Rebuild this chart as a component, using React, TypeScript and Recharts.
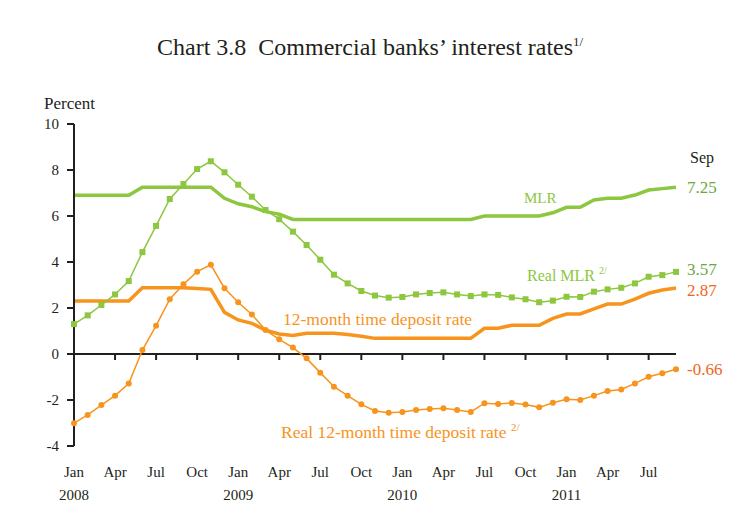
import React from "react";
import { LineChart, Line, XAxis, YAxis, ReferenceLine, ReferenceDot, LabelList } from "recharts";

const months = ["Jan", "Feb", "Mar", "Apr", "May", "Jun", "Jul", "Aug", "Sep", "Oct", "Nov", "Dec"];
const years = [2008, 2009, 2010, 2011];

const mlr = [
  6.9, 6.9, 6.9, 6.9, 6.9, 7.25, 7.25, 7.25, 7.25, 7.25, 7.25, 6.77,
  6.53, 6.4, 6.19, 6.08, 5.85, 5.85, 5.85, 5.85, 5.85, 5.85, 5.85, 5.85,
  5.85, 5.85, 5.85, 5.85, 5.85, 5.85, 6.0, 6.0, 6.0, 6.0, 6.0, 6.14,
  6.38, 6.38, 6.7, 6.77, 6.77, 6.91, 7.13, 7.19, 7.25,
];
const realMlr = [
  1.3, 1.68, 2.13, 2.59, 3.17, 4.43, 5.57, 6.74, 7.39, 8.04, 8.38, 7.9,
  7.36, 6.84, 6.26, 5.86, 5.32, 4.74, 4.1, 3.45, 3.07, 2.74, 2.54, 2.45,
  2.48, 2.59, 2.65, 2.68, 2.59, 2.52, 2.59, 2.57, 2.46, 2.38, 2.25, 2.32,
  2.49, 2.48, 2.71, 2.81, 2.88, 3.07, 3.36, 3.43, 3.57,
];
const deposit = [
  2.3, 2.3, 2.3, 2.3, 2.3, 2.88, 2.88, 2.88, 2.88, 2.85, 2.81, 1.81,
  1.48, 1.33, 1.04, 0.87, 0.8, 0.9, 0.9, 0.9, 0.85, 0.77, 0.68, 0.68,
  0.68, 0.68, 0.68, 0.68, 0.68, 0.68, 1.12, 1.12, 1.25, 1.25, 1.25, 1.55,
  1.74, 1.74, 1.96, 2.17, 2.17, 2.39, 2.64, 2.78, 2.87,
];
const realDeposit = [
  -3.01, -2.65, -2.22, -1.81, -1.28, 0.17, 1.23, 2.38, 3.03, 3.58, 3.88, 2.86,
  2.25, 1.72, 1.04, 0.64, 0.28, -0.19, -0.81, -1.42, -1.81, -2.19, -2.48, -2.55,
  -2.52, -2.43, -2.39, -2.36, -2.43, -2.52, -2.14, -2.17, -2.13, -2.2, -2.32, -2.12,
  -1.97, -2.0, -1.81, -1.61, -1.54, -1.28, -0.99, -0.84, -0.66,
];
const yTicks = [-4, -2, 0, 2, 4, 6, 8, 10];

const data = mlr.map((v, i) => ({
  date: `${years[Math.floor(i / 12)]}-${months[i % 12]}`,
  mlr: v,
  realMlr: realMlr[i],
  deposit: deposit[i],
  realDeposit: realDeposit[i],
}));
const quarterTicks = data.filter((_, i) => i % 3 === 0).map((d) => d.date);
const last = data.length - 1;

const FONT = "'Liberation Serif', 'DejaVu Serif', serif";
const INK = "#231f20";
const GREEN = "#8dc63f";
const ORANGE = "#f7941d";
const GREEN_TXT = "#6aa842";
const RED_TXT = "#f26522";

function MonthTick({ x, y, payload }: any) {
  const [yr, mon] = String(payload.value).split("-");
  return (
    <g fontFamily={FONT} fontSize={15} fill={INK}>
      <text x={x} y={y + 31} textAnchor="middle">{mon}</text>
      {mon === "Jan" && (
        <text x={x} y={y + 54} textAnchor="middle">{yr}</text>
      )}
    </g>
  );
}

const SquareDot = ({ cx, cy, index }: any) => (
  <rect key={index} x={cx - 3} y={cy - 3} width={6} height={6} fill={GREEN} />
);
const RoundDot = ({ cx, cy, index }: any) => (
  <circle key={index} cx={cx} cy={cy} r={3} fill={ORANGE} />
);

// value label at the last point (Sep 2011)
const endLabel = (color: string, shift = 0, withSep = false) => (props: any) => {
  const { x, y, value, index } = props;
  if (index !== last) return null;
  return (
    <g fontFamily={FONT}>
      {withSep && (
        <text x={x + 14} y={y - 24} fontSize={16} fill={INK}>Sep</text>
      )}
      <text x={x + 11} y={y + 6 + shift} fontSize={17} fill={color}>{Number(value).toFixed(2)}</text>
    </g>
  );
};

const Note = ({ left, top, color, size = 16, children }: any) => (
  <div
    style={{
      position: "absolute",
      left,
      top,
      transform: "translateY(-50%)",
      color,
      fontSize: size,
      fontFamily: FONT,
      whiteSpace: "nowrap",
      lineHeight: 1,
    }}
  >
    {children}
  </div>
);

export default function App() {
  return (
    <div style={{ position: "absolute", left: 0, top: 0, width: 739, height: 530, background: "#fff" }}>
      <LineChart
        width={739}
        height={530}
        data={data}
        margin={{ top: 124, right: 63, bottom: 24, left: 44 }}
      >
        <XAxis
          dataKey="date"
          ticks={quarterTicks}
          interval={0}
          axisLine={false}
          tickLine={false}
          tickSize={0}
          tickMargin={0}
          height={60}
          tick={<MonthTick />}
        />
        <YAxis
          domain={[-4, 10]}
          ticks={yTicks}
          width={30}
          tickSize={7}
          tickMargin={8}
          stroke={INK}
          strokeWidth={2}
          tick={{ fill: INK, fontSize: 15, fontFamily: FONT }}
        />
        <ReferenceLine y={0} stroke={INK} strokeWidth={2} />
        {quarterTicks.map((d) => (
          <ReferenceDot
            key={d}
            x={d}
            y={0}
            r={0}
            shape={(p: any) => (
              <line x1={p.cx} x2={p.cx} y1={p.cy} y2={p.cy + 6} stroke={INK} strokeWidth={2} />
            )}
          />
        ))}
        <Line dataKey="mlr" stroke={GREEN} strokeWidth={3.5} dot={false} isAnimationActive={false}>
          <LabelList dataKey="mlr" content={endLabel(GREEN_TXT, 0, true)} />
        </Line>
        <Line dataKey="deposit" stroke={ORANGE} strokeWidth={3.5} dot={false} isAnimationActive={false}>
          <LabelList dataKey="deposit" content={endLabel(RED_TXT, 2)} />
        </Line>
        <Line dataKey="realMlr" stroke={GREEN} strokeWidth={1.5} dot={<SquareDot />} isAnimationActive={false}>
          <LabelList dataKey="realMlr" content={endLabel(GREEN_TXT, -3)} />
        </Line>
        <Line dataKey="realDeposit" stroke={ORANGE} strokeWidth={1.5} dot={<RoundDot />} isAnimationActive={false}>
          <LabelList dataKey="realDeposit" content={endLabel(RED_TXT)} />
        </Line>
      </LineChart>

      <Note left={157} top={47} color={INK} size={24}>
        Chart 3.8&nbsp; Commercial banks’ interest rates<sup style={{ fontSize: 13 }}>1/</sup>
      </Note>
      <Note left={44} top={103} color={INK} size={17}>Percent</Note>
      <Note left={524} top={198} color={GREEN} size={15}>MLR</Note>
      <Note left={527} top={275} color={GREEN} size={16}>
        Real MLR <sup style={{ fontSize: 10 }}>2/</sup>
      </Note>
      <Note left={283} top={320} color={ORANGE} size={17.5}>12-month time deposit rate</Note>
      <Note left={281} top={432} color={ORANGE} size={17.5}>
        Real 12-month time deposit rate <sup style={{ fontSize: 11 }}>2/</sup>
      </Note>
    </div>
  );
}
